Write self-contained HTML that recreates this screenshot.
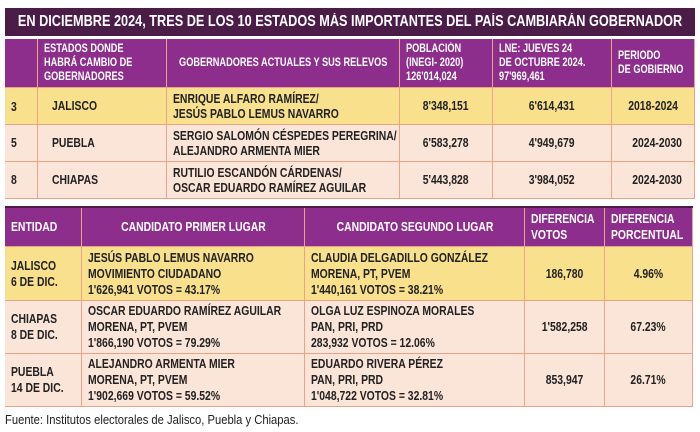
<!DOCTYPE html>
<html><head><meta charset="utf-8"><style>
*{margin:0;padding:0;box-sizing:border-box}
body{width:700px;height:432px;background:#fff;position:relative;overflow:hidden;font-family:"Liberation Sans",sans-serif;font-weight:bold;color:#222}
.a{position:absolute}
.c{position:absolute;border-right:1px solid #e9a387;border-bottom:1px solid #e9a387;display:flex;align-items:center;font-size:13px;line-height:16px;padding-left:6px;overflow:visible}
.c>span{display:inline-block;white-space:nowrap;transform:scaleX(.8);transform-origin:left center}
.ctr>span{transform-origin:center center}
.h{background:#8d2e8d;color:#fff;font-size:11.5px;line-height:14px}
.y{background:#f9e08c}
.p{background:#fbe4d8}
.ctr{justify-content:center;padding-left:0}
</style></head><body>
<div class="a" style="left:5px;top:8px;width:690px;height:28px;background:#4b1c48;color:#fff;font-size:15.5px;display:flex;align-items:center;justify-content:center"><span style="display:inline-block;white-space:nowrap;transform:scaleX(.82)">EN DICIEMBRE 2024, TRES DE LOS 10 ESTADOS MÁS IMPORTANTES DEL PAÍS CAMBIARÁN GOBERNADOR</span></div>

<div class="c h" style="left:5px;top:39px;width:33px;height:49px"></div>
<div class="c h" style="left:38px;top:39px;width:129px;height:49px"><span>ESTADOS DONDE<br>HABRÁ CAMBIO DE<br>GOBERNADORES</span></div>
<div class="c h ctr" style="left:167px;top:39px;width:233px;height:49px"><span>GOBERNADORES ACTUALES Y SUS RELEVOS</span></div>
<div class="c h" style="left:400px;top:39px;width:93px;height:49px"><span>POBLACIÓN<br>(INEGI- 2020)<br>126'014,024</span></div>
<div class="c h" style="left:493px;top:39px;width:119px;height:49px"><span>LNE: JUEVES 24<br>DE OCTUBRE 2024.<br>97'969,461</span></div>
<div class="c h" style="left:612px;top:39px;width:83px;height:49px"><span>PERIODO<br>DE GOBIERNO</span></div>

<div class="c y" style="left:5px;top:88px;width:33px;height:37px;line-height:15px"><span>3</span></div>
<div class="c y" style="left:38px;top:88px;width:129px;height:37px;padding-left:14px"><span>JALISCO</span></div>
<div class="c y" style="left:167px;top:88px;width:233px;height:37px;line-height:15px"><span>ENRIQUE ALFARO RAMÍREZ/<br>JESÚS PABLO LEMUS NAVARRO</span></div>
<div class="c y ctr" style="left:400px;top:88px;width:93px;height:37px"><span>8'348,151</span></div>
<div class="c y ctr" style="left:493px;top:88px;width:119px;height:37px"><span>6'614,431</span></div>
<div class="c y ctr" style="left:612px;top:88px;width:83px;height:37px"><span>2018-2024</span></div>

<div class="c p" style="left:5px;top:125px;width:33px;height:37px"><span>5</span></div>
<div class="c p" style="left:38px;top:125px;width:129px;height:37px;padding-left:14px"><span>PUEBLA</span></div>
<div class="c p" style="left:167px;top:125px;width:233px;height:37px;line-height:15px"><span>SERGIO SALOMÓN CÉSPEDES PEREGRINA/<br>ALEJANDRO ARMENTA MIER</span></div>
<div class="c p ctr" style="left:400px;top:125px;width:93px;height:37px"><span>6'583,278</span></div>
<div class="c p ctr" style="left:493px;top:125px;width:119px;height:37px"><span>4'949,679</span></div>
<div class="c p ctr" style="left:612px;top:125px;width:83px;height:37px;padding-left:8px"><span>2024-2030</span></div>

<div class="c p" style="left:5px;top:162px;width:33px;height:37px"><span>8</span></div>
<div class="c p" style="left:38px;top:162px;width:129px;height:37px;padding-left:14px"><span>CHIAPAS</span></div>
<div class="c p" style="left:167px;top:162px;width:233px;height:37px;line-height:15px"><span>RUTILIO ESCANDÓN CÁRDENAS/<br>OSCAR EDUARDO RAMÍREZ AGUILAR</span></div>
<div class="c p ctr" style="left:400px;top:162px;width:93px;height:37px"><span>5'443,828</span></div>
<div class="c p ctr" style="left:493px;top:162px;width:119px;height:37px"><span>3'984,052</span></div>
<div class="c p ctr" style="left:612px;top:162px;width:83px;height:37px;padding-left:8px"><span>2024-2030</span></div>

<div class="a" style="left:5px;top:206px;width:688px;height:2px;background:#4b1c48"></div>
<div class="c h" style="left:5px;top:208px;width:77px;height:39px;font-size:13px;line-height:16px"><span>ENTIDAD</span></div>
<div class="c h ctr" style="left:82px;top:208px;width:223px;height:39px;font-size:13px"><span>CANDIDATO PRIMER LUGAR</span></div>
<div class="c h ctr" style="left:305px;top:208px;width:220px;height:39px;font-size:13px"><span>CANDIDATO SEGUNDO LUGAR</span></div>
<div class="c h" style="left:525px;top:208px;width:80px;height:39px;font-size:13px;line-height:16px"><span>DIFERENCIA<br>VOTOS</span></div>
<div class="c h" style="left:605px;top:208px;width:88px;height:39px;font-size:13px;line-height:16px"><span>DIFERENCIA<br>PORCENTUAL</span></div>

<div class="c y" style="left:5px;top:247px;width:77px;height:54px"><span>JALISCO<br>6 DE DIC.</span></div>
<div class="c y" style="left:82px;top:247px;width:223px;height:54px"><span>JESÚS PABLO LEMUS NAVARRO<br>MOVIMIENTO CIUDADANO<br>1'626,941 VOTOS = 43.17%</span></div>
<div class="c y" style="left:305px;top:247px;width:220px;height:54px"><span>CLAUDIA DELGADILLO GONZÁLEZ<br>MORENA, PT, PVEM<br>1'440,161 VOTOS = 38.21%</span></div>
<div class="c y ctr" style="left:525px;top:247px;width:80px;height:54px"><span>186,780</span></div>
<div class="c y ctr" style="left:605px;top:247px;width:88px;height:54px"><span>4.96%</span></div>

<div class="c p" style="left:5px;top:301px;width:77px;height:53px"><span>CHIAPAS<br>8 DE DIC.</span></div>
<div class="c p" style="left:82px;top:301px;width:223px;height:53px"><span>OSCAR EDUARDO RAMÍREZ AGUILAR<br>MORENA, PT, PVEM<br>1'866,190 VOTOS = 79.29%</span></div>
<div class="c p" style="left:305px;top:301px;width:220px;height:53px"><span>OLGA LUZ ESPINOZA MORALES<br>PAN, PRI, PRD<br>283,932 VOTOS = 12.06%</span></div>
<div class="c p ctr" style="left:525px;top:301px;width:80px;height:53px"><span>1'582,258</span></div>
<div class="c p ctr" style="left:605px;top:301px;width:88px;height:53px"><span>67.23%</span></div>

<div class="c p" style="left:5px;top:354px;width:77px;height:53px"><span>PUEBLA<br>14 DE DIC.</span></div>
<div class="c p" style="left:82px;top:354px;width:223px;height:53px"><span>ALEJANDRO ARMENTA MIER<br>MORENA, PT, PVEM<br>1'902,669 VOTOS = 59.52%</span></div>
<div class="c p" style="left:305px;top:354px;width:220px;height:53px"><span>EDUARDO RIVERA PÉREZ<br>PAN, PRI, PRD<br>1'048,722 VOTOS = 32.81%</span></div>
<div class="c p ctr" style="left:525px;top:354px;width:80px;height:53px"><span>853,947</span></div>
<div class="c p ctr" style="left:605px;top:354px;width:88px;height:53px"><span>26.71%</span></div>

<div class="a" style="left:5px;top:412px;font-size:13.2px;font-weight:normal;color:#222;white-space:nowrap;transform:scaleX(.85);transform-origin:left center">Fuente: Institutos electorales de Jalisco, Puebla y Chiapas.</div>
</body></html>
